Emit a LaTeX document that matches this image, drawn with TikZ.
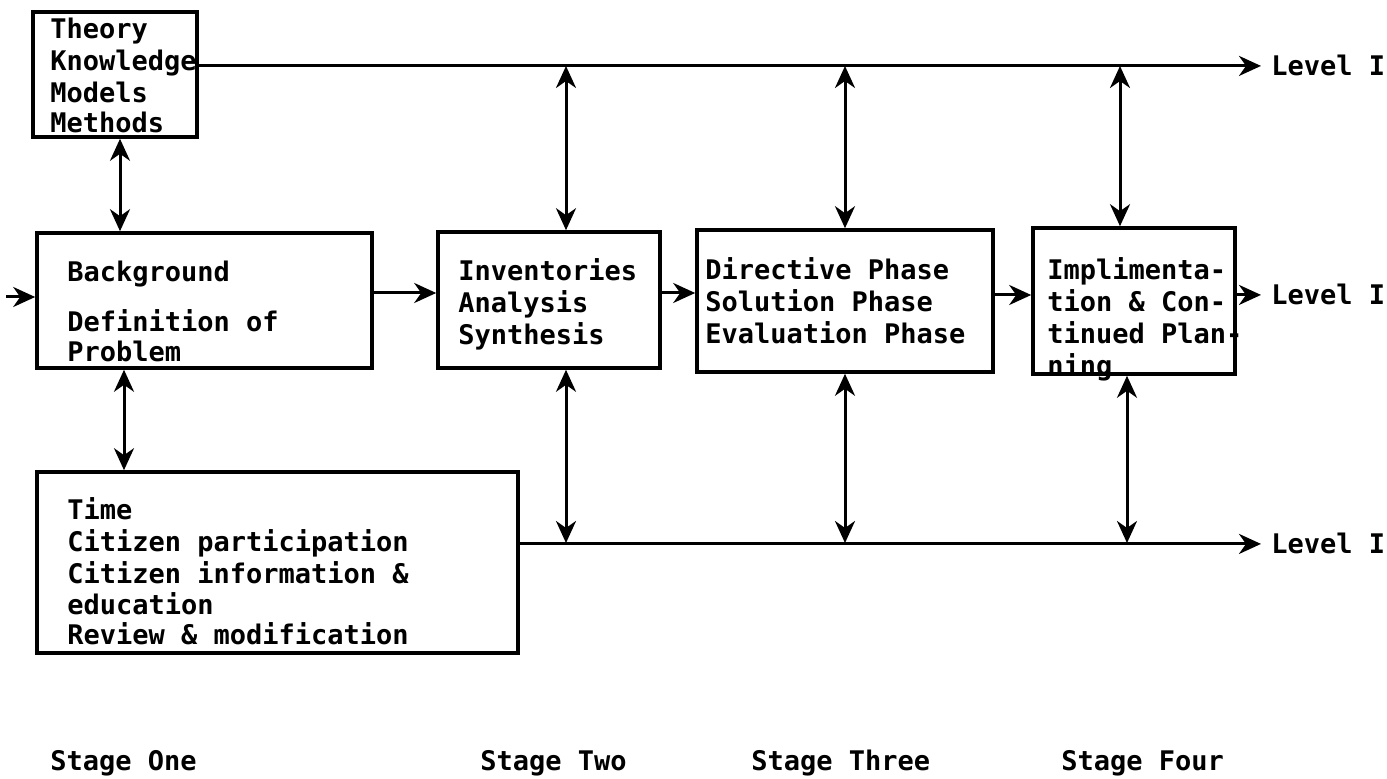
\documentclass[tikz,border=0pt]{standalone}
\usepackage{fontspec}
\newfontfamily\tw{DejaVu Sans Mono}
\usetikzlibrary{arrows.meta,fit}
\begin{document}
\begin{tikzpicture}[x=0.5pt,y=-0.5pt,
  box/.style={draw, line width=1.8pt, inner sep=0pt},
  txt/.style={anchor=base west, inner sep=0pt, font=\tw\bfseries\fontsize{13.5}{16}\selectfont},
  lvl/.style={txt, inner xsep=5pt},
  arr/.style={line width=1.5pt, -{Stealth[length=11pt,width=10pt,inset=3.5pt]}},
  darr/.style={line width=1.5pt, {Stealth[length=11pt,width=10pt,inset=3.5pt]}-{Stealth[length=11pt,width=10pt,inset=3.5pt]}}]
\useasboundingbox (0,0) rectangle (1387,779);
% boxes
\node[box, fit={(33,12)(197,137)}] (theory) {};
\node[box, fit={(37,233)(372,368)}] (bg) {};
\node[box, fit={(438,232)(660,368)}] (inv) {};
\node[box, fit={(697,230)(993,372)}] (dir) {};
\node[box, fit={(1033,228)(1235,374)}] (impl) {};
\node[box, fit={(37,472)(518,653)}] (bot) {};
% texts
\node[txt] (ttheory) at (50,39) {\begin{tabular}[t]{@{}l@{}}Theory\\Knowledge\\Models\\[-1pt]Methods\end{tabular}};
\node[txt] (tbg) at (67,282) {\begin{tabular}[t]{@{}l@{}}Background\\[9pt]Definition of\\[-1pt]Problem\end{tabular}};
\node[txt] (tinv) at (458,281) {\begin{tabular}[t]{@{}l@{}}Inventories\\Analysis\\Synthesis\end{tabular}};
\node[txt] (tdir) at (705,280) {\begin{tabular}[t]{@{}l@{}}Directive Phase\\Solution Phase\\Evaluation Phase\end{tabular}};
\node[txt] (timpl) at (1047,280) {\begin{tabular}[t]{@{}l@{}}Implimenta-\\tion \& Con-\\tinued Plan-\\ning\end{tabular}};
\node[txt] (tbot) at (67,520) {\begin{tabular}[t]{@{}l@{}}Time\\Citizen participation\\Citizen information \&\\[-0.5pt]education\\[-1pt]Review \& modification\end{tabular}};
% level labels
\node[lvl] (lv1) at (1261,76) {Level I};
\node[lvl] (lv2) at (1261,305) {Level I};
\node[lvl] (lv3) at (1261,554) {Level I};
% stage labels
\node[txt] (s1) at (50,771) {Stage One};
\node[txt] (s2) at (480,771) {Stage Two};
\node[txt] (s3) at (751,771) {Stage Three};
\node[txt] (s4) at (1061,771) {Stage Four};
% coordinates
\coordinate (in) at (6,297);
\coordinate (ya) at (0,293);
\coordinate (yb) at (0,295);
\coordinate (xa) at (120,0);
\coordinate (xb) at (124,0);
\coordinate (t2) at (566,66);
\coordinate (t3) at (845,66);
\coordinate (t4) at (1120,66);
\coordinate (b2) at (566,543);
\coordinate (b3) at (845,543);
\coordinate (b4) at (1127,543);
% horizontal connectors
\draw[arr] (in) -- (in -| bg.west);
\draw[arr] (bg.east |- ya) -- (inv.west |- ya);
\draw[arr] (inv.east |- ya) -- (dir.west |- ya);
\draw[arr] (dir.east |- yb) -- (impl.west |- yb);
\draw[arr] (impl.east |- lv2.west) -- (lv2.west);
\draw[arr] (theory.east |- lv1.west) -- (lv1.west);
\draw[arr] (bot.east |- lv3.west) -- (lv3.west);
% vertical connectors
\draw[darr] (theory.south -| xa) -- (bg.north -| xa);
\draw[darr] (bg.south -| xb) -- (bot.north -| xb);
\draw[darr] (t2) -- (inv.north -| t2);
\draw[darr] (t3) -- (dir.north -| t3);
\draw[darr] (t4) -- (impl.north -| t4);
\draw[darr] (inv.south -| b2) -- (b2);
\draw[darr] (dir.south -| b3) -- (b3);
\draw[darr] (impl.south -| b4) -- (b4);
\end{tikzpicture}
\end{document}
